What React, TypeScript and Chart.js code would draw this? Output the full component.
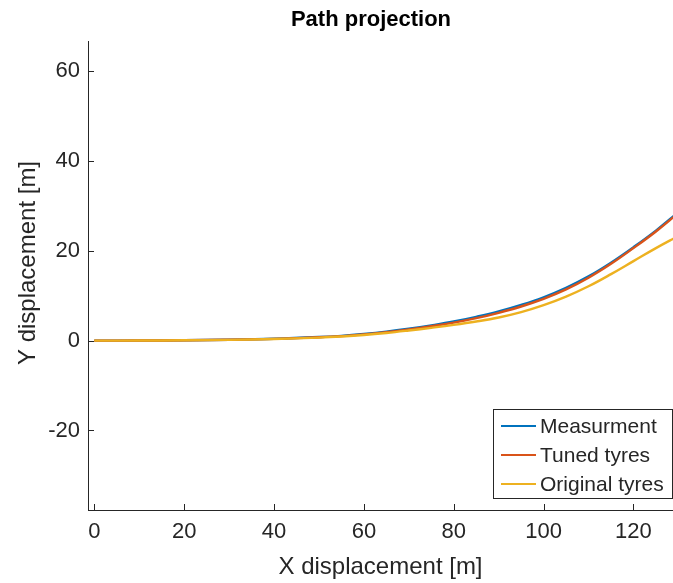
import React, { useEffect, useRef } from "react";
import { Chart, registerables } from "chart.js";

Chart.register(...registerables);

// Longitudinal position along the path [m]
const xDisplacement = [0, 10, 20, 30, 40, 50, 55, 60, 65, 70, 75, 80, 85, 90, 95, 100, 105, 110, 115, 120, 125, 130];
// Lateral position [m] for each source
const measurement = [0, 0.02, 0.08, 0.2, 0.42, 0.8, 1.07, 1.48, 2.0, 2.65, 3.4, 4.25, 5.3, 6.5, 7.95, 9.65, 11.75, 14.3, 17.35, 20.8, 24.5, 28.6];
const tunedTyres = [0, 0.02, 0.08, 0.2, 0.4, 0.75, 1.0, 1.4, 1.9, 2.5, 3.2, 4.0, 5.0, 6.2, 7.6, 9.3, 11.4, 14.0, 17.1, 20.6, 24.3, 28.4];
const originalTyres = [0, 0.02, 0.07, 0.18, 0.36, 0.68, 0.92, 1.25, 1.7, 2.25, 2.85, 3.5, 4.25, 5.15, 6.35, 7.9, 9.8, 12.1, 14.8, 17.7, 20.6, 23.3];

const seriesLabels = ["Measurment", "Tuned tyres", "Original tyres"];
const seriesColors = ["#0072BD", "#D95319", "#EDB120"];

const xTicks = [0, 20, 40, 60, 80, 100, 120];
const yTicks = [-20, 0, 20, 40, 60];

const chartTitle = "Path projection";
const xAxisTitle = "X displacement [m]";
const yAxisTitle = "Y displacement [m]";

const FONT = "'Liberation Sans', Arial, Helvetica, sans-serif";
const INK = "#262626";

const toPoints = (ys: number[]) => xDisplacement.map((x, i) => ({ x, y: ys[i] }));

// Inward tick marks, axis titles, title and the boxed legend
const decorations = {
  id: "decorations",
  afterDraw(chart: any) {
    const { ctx, chartArea, scales } = chart;
    const xs = scales.x;
    const ys = scales.y;
    ctx.save();
    ctx.strokeStyle = INK;
    ctx.lineWidth = 1;
    const tl = 6;
    ctx.beginPath();
    xTicks.forEach((v) => {
      const px = Math.round(xs.getPixelForValue(v)) + 0.5;
      ctx.moveTo(px, chartArea.bottom);
      ctx.lineTo(px, chartArea.bottom - tl);
    });
    yTicks.forEach((v) => {
      const py = Math.round(ys.getPixelForValue(v)) + 0.5;
      ctx.moveTo(chartArea.left, py);
      ctx.lineTo(chartArea.left + tl, py);
    });
    ctx.stroke();

    // title
    ctx.fillStyle = "#000";
    ctx.font = `bold 22px ${FONT}`;
    ctx.textAlign = "center";
    ctx.textBaseline = "middle";
    ctx.fillText(chartTitle, 371, 20);

    // axis titles
    ctx.fillStyle = INK;
    ctx.font = `24px ${FONT}`;
    ctx.fillText(xAxisTitle, (chartArea.left + chartArea.right) / 2, 567);
    ctx.save();
    ctx.translate(28, 263);
    ctx.rotate(-Math.PI / 2);
    ctx.fillText(yAxisTitle, 0, 0);
    ctx.restore();

    // legend
    const bx = 493.5, by = 409.5, bw = 179, bh = 89;
    ctx.fillStyle = "#fff";
    ctx.fillRect(bx, by, bw, bh);
    ctx.strokeStyle = INK;
    ctx.strokeRect(bx, by, bw, bh);
    ctx.font = `21px ${FONT}`;
    ctx.textAlign = "left";
    ctx.textBaseline = "middle";
    chart.data.datasets.forEach((ds: any, i: number) => {
      const cy = 426 + i * 29;
      ctx.strokeStyle = ds.borderColor;
      ctx.lineWidth = 2.2;
      ctx.beginPath();
      ctx.moveTo(501, cy);
      ctx.lineTo(536, cy);
      ctx.stroke();
      ctx.fillStyle = INK;
      ctx.fillText(ds.label, 540, cy + 1);
    });
    ctx.restore();
  },
};

export default function App() {
  const canvasRef = useRef<HTMLCanvasElement | null>(null);

  useEffect(() => {
    document.body.style.margin = "0";
    const canvas = canvasRef.current;
    if (!canvas) return;
    const seriesData = [measurement, tunedTyres, originalTyres];
    const chart = new Chart(canvas, {
      type: "line",
      data: {
        datasets: seriesData.map((ys, i) => ({
          label: seriesLabels[i],
          data: toPoints(ys),
          borderColor: seriesColors[i],
          backgroundColor: seriesColors[i],
          borderWidth: 2.4,
          pointRadius: 0,
          tension: 0.4,
          fill: false,
          // later series drawn on top
          order: seriesData.length - i,
        })),
      },
      options: {
        responsive: false,
        animation: false,
        devicePixelRatio: 1,
        layout: { padding: { top: 41, left: 0, right: 0, bottom: 0 } },
        plugins: {
          legend: { display: false },
          title: { display: false },
          tooltip: { enabled: false },
        },
        scales: {
          x: {
            type: "linear",
            min: -1.4,
            max: 128.8,
            afterBuildTicks: (scale: any) => {
              scale.ticks = xTicks.map((value) => ({ value }));
            },
            afterFit: (scale: any) => {
              scale.height = 73;
            },
            grid: { display: false, drawTicks: false },
            border: { display: true, color: INK, width: 1 },
            ticks: {
              color: INK,
              font: { family: FONT, size: 22 },
              padding: 9,
              maxRotation: 0,
            },
          },
          y: {
            type: "linear",
            min: -37.7,
            max: 66.7,
            afterBuildTicks: (scale: any) => {
              scale.ticks = yTicks.map((value) => ({ value }));
            },
            afterFit: (scale: any) => {
              scale.width = 88;
            },
            grid: { display: false, drawTicks: false },
            border: { display: true, color: INK, width: 1 },
            ticks: {
              color: INK,
              font: { family: FONT, size: 22 },
              padding: 8,
            },
          },
        },
      },
      plugins: [decorations],
    });
    return () => chart.destroy();
  }, []);

  return (
    <div style={{ width: 673, height: 583, background: "#fff" }}>
      <canvas ref={canvasRef} width={673} height={583} style={{ display: "block" }} />
    </div>
  );
}
